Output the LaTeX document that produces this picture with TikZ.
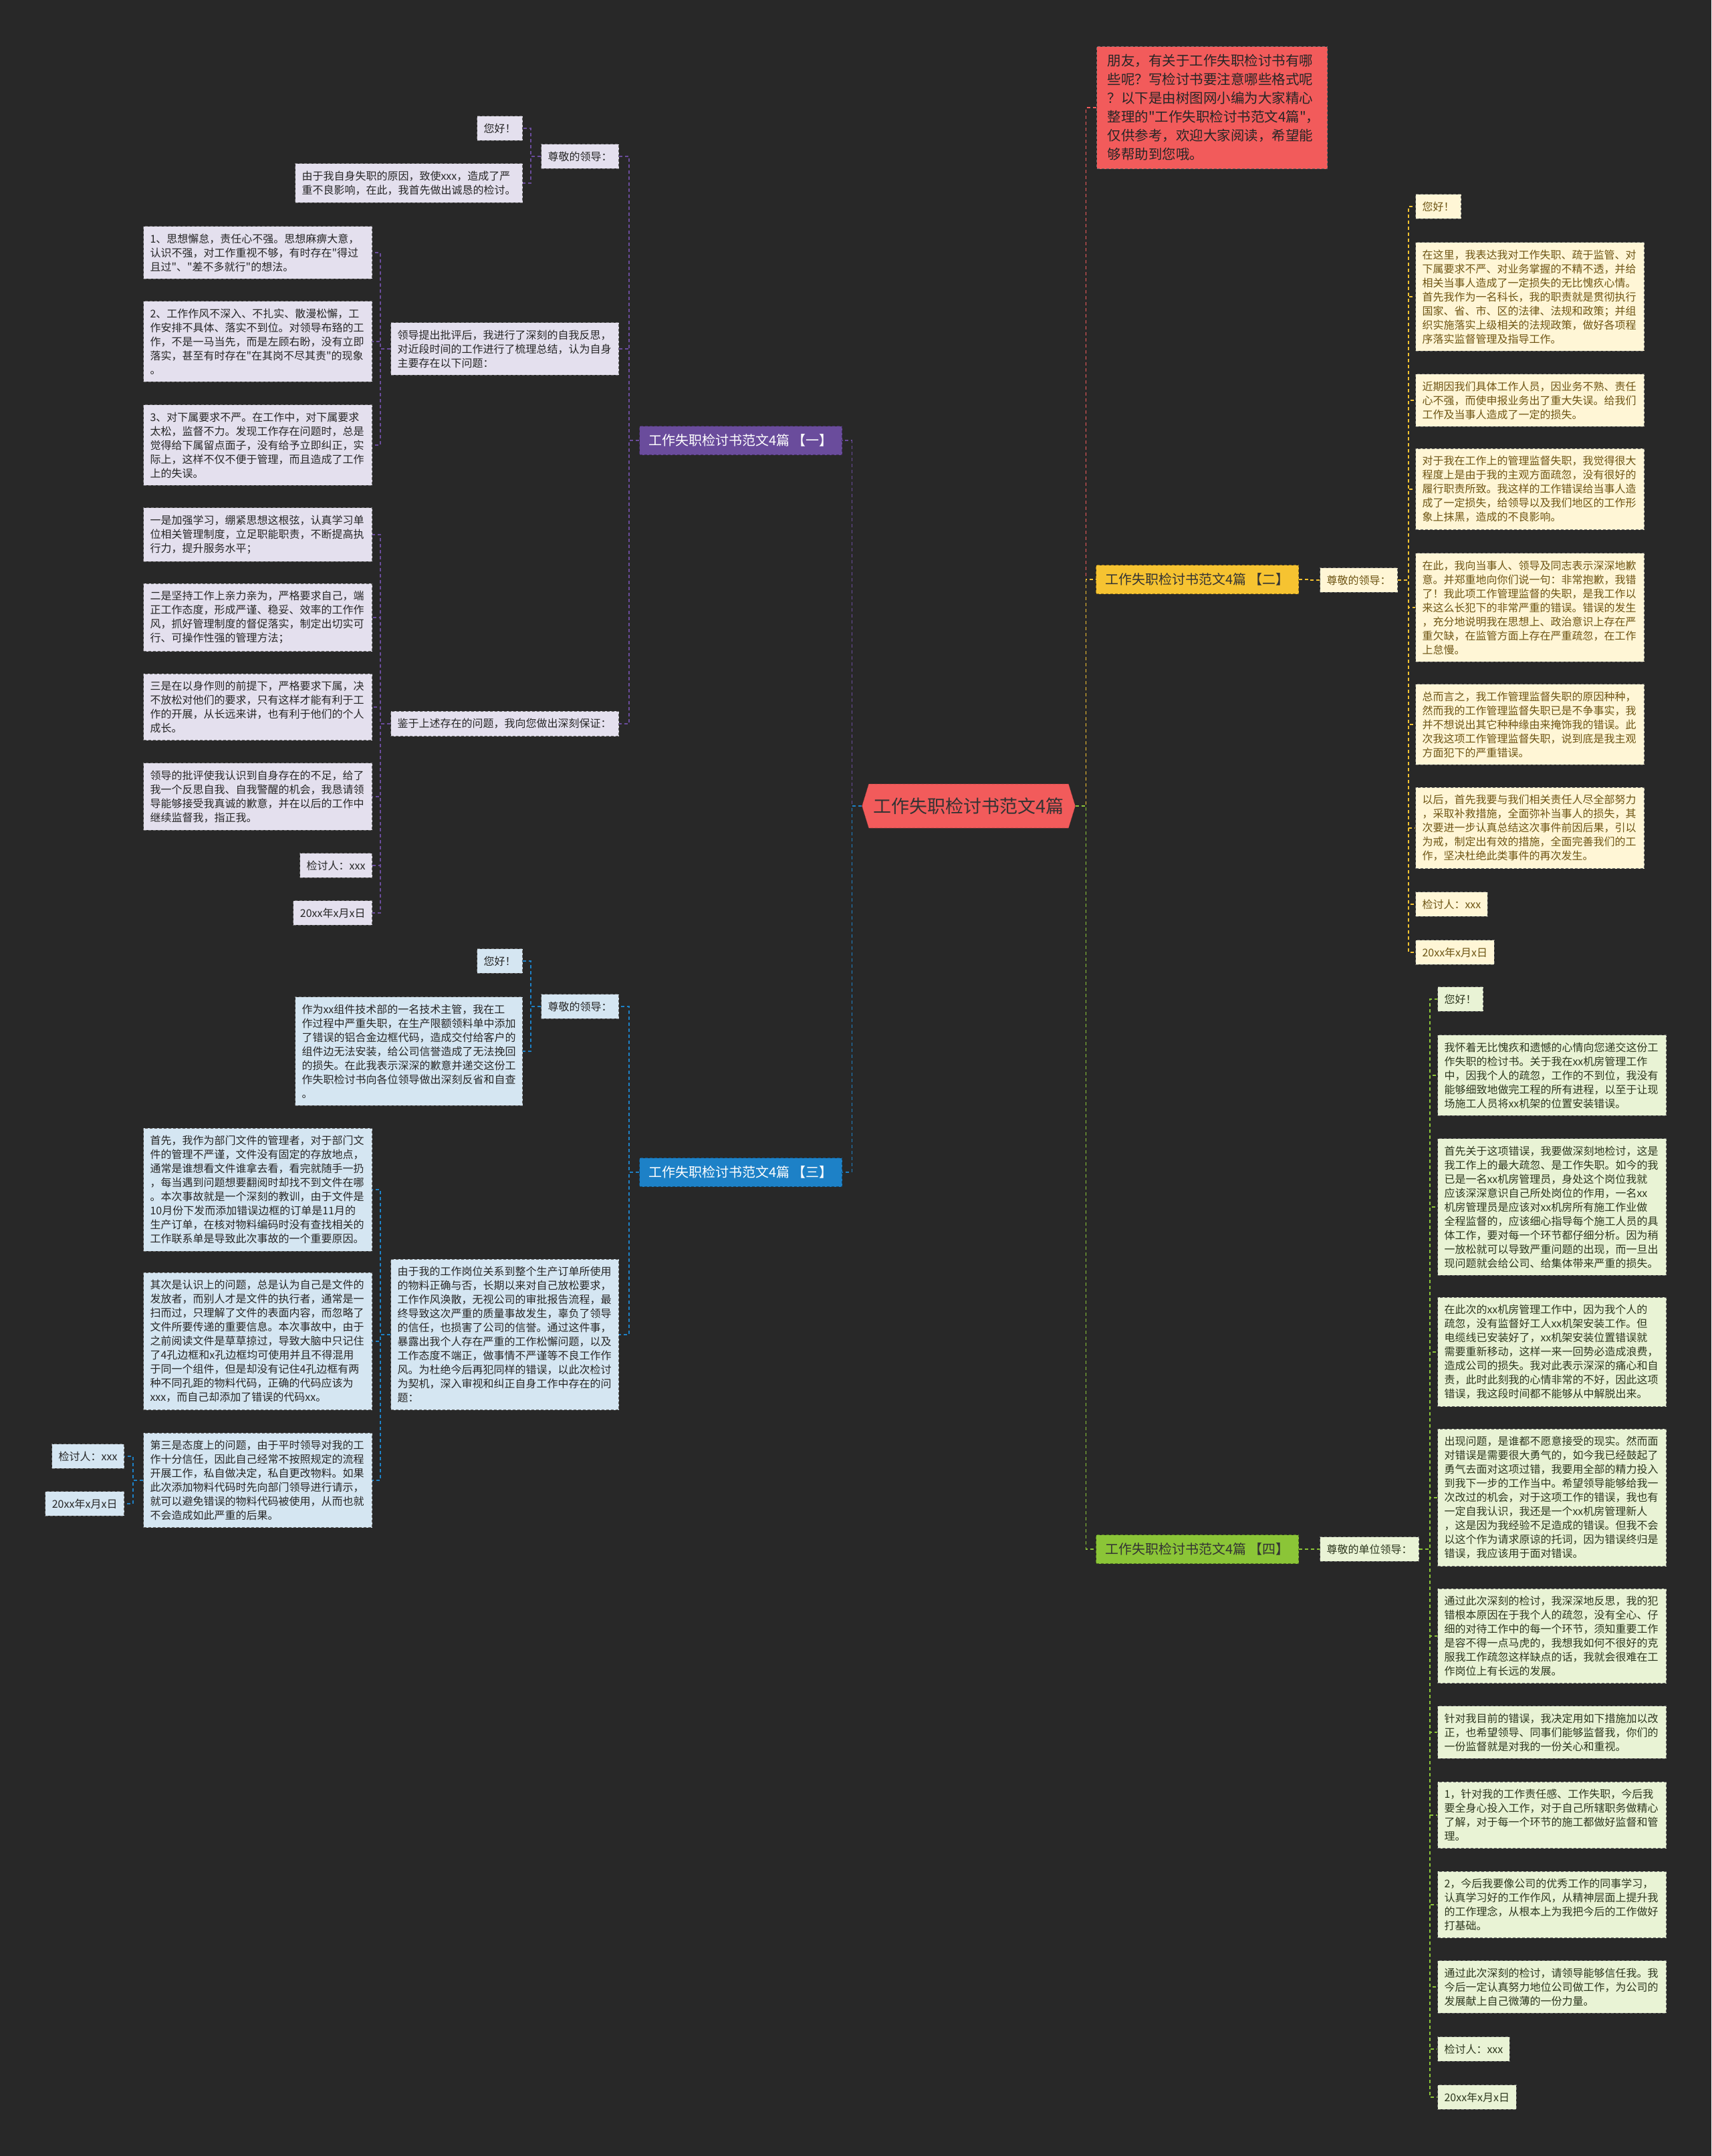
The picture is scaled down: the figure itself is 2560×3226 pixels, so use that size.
\documentclass[tikz,border=0pt]{standalone}
\usepackage{fontspec}
\setmainfont{Noto Sans CJK SC}[Ligatures=TeXOff]
\usepackage{tikz}
\usetikzlibrary{positioning, shapes.symbols}
\definecolor{bgdark}{RGB}{40,40,40}
\definecolor{redbox}{RGB}{242,91,91}
\definecolor{purp}{RGB}{106,76,156}
\definecolor{gold}{RGB}{246,195,49}
\definecolor{sky}{RGB}{29,129,199}
\definecolor{lime}{RGB}{139,197,55}
\definecolor{lavender}{RGB}{228,224,238}
\definecolor{cream}{RGB}{255,246,214}
\definecolor{iceblue}{RGB}{213,230,242}
\definecolor{mint}{RGB}{233,243,213}
\definecolor{browntext}{RGB}{110,85,20}
\definecolor{greentext}{RGB}{45,55,30}

\begin{document}
\begin{tikzpicture}[
  x=1pt, y=-1pt,
  card/.style={draw=black!60, dash pattern=on 4pt off 3pt, line width=1pt, fill=#1,
               text=black!85, inner xsep=10pt, inner ysep=11pt,
               font=\fontsize{16}{21}\selectfont},
  wide/.style={text width=322pt, align=left},
  branch/.style={draw=#1!60!black, dash pattern=on 4pt off 3pt, line width=1pt, fill=#1,
                 minimum width=303pt, minimum height=43pt, inner sep=0pt,
                 font=\fontsize{20}{24}\selectfont},
  link/.style={draw=#1, dash pattern=on 5pt off 4pt, line width=1.5pt}
]
  \useasboundingbox (0,0) rectangle (2560,3226);
  \fill[bgdark] (0,0) rectangle (2560,3226);

  % Root and intro
  \node[signal, signal to=east and west, signal pointer angle=146, draw=redbox!60!black,
        dash pattern=on 4pt off 3pt, fill=redbox, text=black!80, minimum width=319pt,
        minimum height=66pt, inner sep=0pt, font=\fontsize{27}{32}\selectfont]
        (root) at (1449,1206) {工作失职检讨书范文4篇};
  \node[card=redbox, anchor=north west, text width=313pt, align=left, inner xsep=16pt,
        inner ysep=12pt, font=\fontsize{20.5}{28}\selectfont] (intro) at (1640,69)
        {朋友，有关于工作失职检讨书有哪\\些呢？写检讨书要注意哪些格式呢\\？以下是由树图网小编为大家精心\\整理的"工作失职检讨书范文4篇"，\\仅供参考，欢迎大家阅读，希望能\\够帮助到您哦。};

  % Branches
  \node[branch=purp, text=white] (b1) at (1108,659) {工作失职检讨书范文4篇 【一】};
  \node[branch=gold, text=black!80] (b2) at (1791,867) {工作失职检讨书范文4篇 【二】};
  \node[branch=sky, text=white] (b3) at (1108,1754) {工作失职检讨书范文4篇 【三】};
  \node[branch=lime, text=black!80] (b4) at (1791,2318) {工作失职检讨书范文4篇 【四】};

  % Branch one
  \node[card=lavender, anchor=east] (g1) at (926,234) {尊敬的领导：};
  \node[card=lavender, anchor=east] (g1hi) at (782,192) {您好！};
  \node[card=lavender, anchor=east, text width=320pt, align=left] (g1a) at (782,274)
    {由于我自身失职的原因，致使xxx，造成了严\\重不良影响，在此，我首先做出诚恳的检讨。};
  \node[card=lavender, anchor=east, text width=321pt, align=left] (p1) at (926,522)
    {领导提出批评后，我进行了深刻的自我反思，\\对近段时间的工作进行了梳理总结，认为自身\\主要存在以下问题：};
  \node[card=lavender, wide, anchor=east] (p1a) at (557,378)
    {1、思想懈怠，责任心不强。思想麻痹大意，\\认识不强，对工作重视不够，有时存在"得过\\且过"、"差不多就行"的想法。};
  \node[card=lavender, wide, anchor=east] (p1b) at (557,511)
    {2、工作作风不深入、不扎实、散漫松懈，工\\作安排不具体、落实不到位。对领导布臵的工\\作，不是一马当先，而是左顾右盼，没有立即\\落实，甚至有时存在"在其岗不尽其责"的现象\\。};
  \node[card=lavender, wide, anchor=east] (p1c) at (557,666)
    {3、对下属要求不严。在工作中，对下属要求\\太松，监督不力。发现工作存在问题时，总是\\觉得给下属留点面子，没有给予立即纠正，实\\际上，这样不仅不便于管理，而且造成了工作\\上的失误。};
  \node[card=lavender, anchor=east, text width=321pt, align=left] (q1) at (926,1083)
    {鉴于上述存在的问题，我向您做出深刻保证：};
  \node[card=lavender, wide, anchor=east] (q1a) at (557,800)
    {一是加强学习，绷紧思想这根弦，认真学习单\\位相关管理制度，立足职能职责，不断提高执\\行力，提升服务水平；};
  \node[card=lavender, wide, anchor=east] (q1b) at (557,924)
    {二是坚持工作上亲力亲为，严格要求自己，端\\正工作态度，形成严谨、稳妥、效率的工作作\\风，抓好管理制度的督促落实，制定出切实可\\行、可操作性强的管理方法；};
  \node[card=lavender, wide, anchor=east] (q1c) at (557,1058)
    {三是在以身作则的前提下，严格要求下属，决\\不放松对他们的要求，只有这样才能有利于工\\作的开展，从长远来讲，也有利于他们的个人\\成长。};
  \node[card=lavender, wide, anchor=east] (q1d) at (557,1192)
    {领导的批评使我认识到自身存在的不足，给了\\我一个反思自我、自我警醒的机会，我恳请领\\导能够接受我真诚的歉意，并在以后的工作中\\继续监督我，指正我。};
  \node[card=lavender, anchor=east] (q1e) at (557,1295) {检讨人：xxx};
  \node[card=lavender, anchor=east] (q1f) at (557,1366) {20xx年x月x日};

  % Branch two
  \node[card=cream, text=browntext, anchor=west] (g2) at (1974,868) {尊敬的领导：};
  \node[card=cream, text=browntext, anchor=west] (g2hi) at (2117,309) {您好！};
  \node[card=cream, text=browntext, wide, anchor=west] (g2a) at (2117,444)
    {在这里，我表达我对工作失职、疏于监管、对\\下属要求不严、对业务掌握的不精不透，并给\\相关当事人造成了一定损失的无比愧疚心情。\\首先我作为一名科长，我的职责就是贯彻执行\\国家、省、市、区的法律、法规和政策；并组\\织实施落实上级相关的法规政策，做好各项程\\序落实监督管理及指导工作。};
  \node[card=cream, text=browntext, wide, anchor=west] (g2b) at (2117,599)
    {近期因我们具体工作人员，因业务不熟、责任\\心不强，而使申报业务出了重大失误。给我们\\工作及当事人造成了一定的损失。};
  \node[card=cream, text=browntext, wide, anchor=west] (g2c) at (2117,732)
    {对于我在工作上的管理监督失职，我觉得很大\\程度上是由于我的主观方面疏忽，没有很好的\\履行职责所致。我这样的工作错误给当事人造\\成了一定损失，给领导以及我们地区的工作形\\象上抹黑，造成的不良影响。};
  \node[card=cream, text=browntext, wide, anchor=west] (g2d) at (2117,909)
    {在此，我向当事人、领导及同志表示深深地歉\\意。并郑重地向你们说一句：非常抱歉，我错\\了！我此项工作管理监督的失职，是我工作以\\来这么长犯下的非常严重的错误。错误的发生\\，充分地说明我在思想上、政治意识上存在严\\重欠缺，在监管方面上存在严重疏忽，在工作\\上怠慢。};
  \node[card=cream, text=browntext, wide, anchor=west] (g2e) at (2117,1084)
    {总而言之，我工作管理监督失职的原因种种，\\然而我的工作管理监督失职已是不争事实，我\\并不想说出其它种种缘由来掩饰我的错误。此\\次我这项工作管理监督失职，说到底是我主观\\方面犯下的严重错误。};
  \node[card=cream, text=browntext, wide, anchor=west] (g2f) at (2117,1239)
    {以后，首先我要与我们相关责任人尽全部努力\\，采取补救措施，全面弥补当事人的损失，其\\次要进一步认真总结这次事件前因后果，引以\\为戒，制定出有效的措施，全面完善我们的工\\作，坚决杜绝此类事件的再次发生。};
  \node[card=cream, text=browntext, anchor=west] (g2g) at (2117,1353) {检讨人：xxx};
  \node[card=cream, text=browntext, anchor=west] (g2h) at (2117,1425) {20xx年x月x日};

  % Branch three
  \node[card=iceblue, anchor=east] (g3) at (926,1506) {尊敬的领导：};
  \node[card=iceblue, anchor=east] (g3hi) at (782,1438) {您好！};
  \node[card=iceblue, anchor=east, text width=320pt, align=left] (g3a) at (782,1573)
    {作为xx组件技术部的一名技术主管，我在工\\作过程中严重失职，在生产限额领料单中添加\\了错误的铝合金边框代码，造成交付给客户的\\组件边无法安装，给公司信誉造成了无法挽回\\的损失。在此我表示深深的歉意并递交这份工\\作失职检讨书向各位领导做出深刻反省和自查\\。};
  \node[card=iceblue, anchor=east, text width=321pt, align=left] (r3) at (926,1997)
    {由于我的工作岗位关系到整个生产订单所使用\\的物料正确与否，长期以来对自己放松要求，\\工作作风涣散，无视公司的审批报告流程，最\\终导致这次严重的质量事故发生，辜负了领导\\的信任，也损害了公司的信誉。通过这件事，\\暴露出我个人存在严重的工作松懈问题，以及\\工作态度不端正，做事情不严谨等不良工作作\\风。为杜绝今后再犯同样的错误，以此次检讨\\为契机，深入审视和纠正自身工作中存在的问\\题：};
  \node[card=iceblue, wide, anchor=east] (r3a) at (557,1780)
    {首先，我作为部门文件的管理者，对于部门文\\件的管理不严谨，文件没有固定的存放地点，\\通常是谁想看文件谁拿去看，看完就随手一扔\\，每当遇到问题想要翻阅时却找不到文件在哪\\。本次事故就是一个深刻的教训，由于文件是\\10月份下发而添加错误边框的订单是11月的\\生产订单，在核对物料编码时没有查找相关的\\工作联系单是导致此次事故的一个重要原因。};
  \node[card=iceblue, wide, anchor=east] (r3b) at (557,2007)
    {其次是认识上的问题，总是认为自己是文件的\\发放者，而别人才是文件的执行者，通常是一\\扫而过，只理解了文件的表面内容，而忽略了\\文件所要传递的重要信息。本次事故中，由于\\之前阅读文件是草草掠过，导致大脑中只记住\\了4孔边框和x孔边框均可使用并且不得混用\\于同一个组件，但是却没有记住4孔边框有两\\种不同孔距的物料代码，正确的代码应该为\\xxx，而自己却添加了错误的代码xx。};
  \node[card=iceblue, wide, anchor=east] (r3c) at (557,2215)
    {第三是态度上的问题，由于平时领导对我的工\\作十分信任，因此自己经常不按照规定的流程\\开展工作，私自做决定，私自更改物料。如果\\此次添加物料代码时先向部门领导进行请示，\\就可以避免错误的物料代码被使用，从而也就\\不会造成如此严重的后果。};
  \node[card=iceblue, anchor=east] (r3d) at (186,2179) {检讨人：xxx};
  \node[card=iceblue, anchor=east] (r3e) at (186,2250) {20xx年x月x日};

  % Branch four
  \node[card=mint, text=greentext, anchor=west] (g4) at (1974,2318) {尊敬的单位领导：};
  \node[card=mint, text=greentext, anchor=west] (g4hi) at (2150,1495) {您好！};
  \node[card=mint, text=greentext, wide, anchor=west] (g4a) at (2150,1609)
    {我怀着无比愧疚和遗憾的心情向您递交这份工\\作失职的检讨书。关于我在xx机房管理工作\\中，因我个人的疏忽，工作的不到位，我没有\\能够细致地做完工程的所有进程，以至于让现\\场施工人员将xx机架的位置安装错误。};
  \node[card=mint, text=greentext, wide, anchor=west] (g4b) at (2150,1806)
    {首先关于这项错误，我要做深刻地检讨，这是\\我工作上的最大疏忽、是工作失职。如今的我\\已是一名xx机房管理员，身处这个岗位我就\\应该深深意识自己所处岗位的作用，一名xx\\机房管理员是应该对xx机房所有施工作业做\\全程监督的，应该细心指导每个施工人员的具\\体工作，要对每一个环节都仔细分析。因为稍\\一放松就可以导致严重问题的出现，而一旦出\\现问题就会给公司、给集体带来严重的损失。};
  \node[card=mint, text=greentext, wide, anchor=west] (g4c) at (2150,2023)
    {在此次的xx机房管理工作中，因为我个人的\\疏忽，没有监督好工人xx机架安装工作。但\\电缆线已安装好了，xx机架安装位置错误就\\需要重新移动，这样一来一回势必造成浪费，\\造成公司的损失。我对此表示深深的痛心和自\\责，此时此刻我的心情非常的不好，因此这项\\错误，我这段时间都不能够从中解脱出来。};
  \node[card=mint, text=greentext, wide, anchor=west] (g4d) at (2150,2241)
    {出现问题，是谁都不愿意接受的现实。然而面\\对错误是需要很大勇气的，如今我已经鼓起了\\勇气去面对这项过错，我要用全部的精力投入\\到我下一步的工作当中。希望领导能够给我一\\次改过的机会，对于这项工作的错误，我也有\\一定自我认识，我还是一个xx机房管理新人\\，这是因为我经验不足造成的错误。但我不会\\以这个作为请求原谅的托词，因为错误终归是\\错误，我应该用于面对错误。};
  \node[card=mint, text=greentext, wide, anchor=west] (g4e) at (2150,2448)
    {通过此次深刻的检讨，我深深地反思，我的犯\\错根本原因在于我个人的疏忽，没有全心、仔\\细的对待工作中的每一个环节，须知重要工作\\是容不得一点马虎的，我想我如何不很好的克\\服我工作疏忽这样缺点的话，我就会很难在工\\作岗位上有长远的发展。};
  \node[card=mint, text=greentext, wide, anchor=west] (g4f) at (2150,2592)
    {针对我目前的错误，我决定用如下措施加以改\\正，也希望领导、同事们能够监督我，你们的\\一份监督就是对我的一份关心和重视。};
  \node[card=mint, text=greentext, wide, anchor=west] (g4g) at (2150,2716)
    {1，针对我的工作责任感、工作失职，今后我\\要全身心投入工作，对于自己所辖职务做精心\\了解，对于每一个环节的施工都做好监督和管\\理。};
  \node[card=mint, text=greentext, wide, anchor=west] (g4h) at (2150,2850)
    {2，今后我要像公司的优秀工作的同事学习，\\认真学习好的工作作风，从精神层面上提升我\\的工作理念，从根本上为我把今后的工作做好\\打基础。};
  \node[card=mint, text=greentext, wide, anchor=west] (g4i) at (2150,2973)
    {通过此次深刻的检讨，请领导能够信任我。我\\今后一定认真努力地位公司做工作，为公司的\\发展献上自己微薄的一份力量。};
  \node[card=mint, text=greentext, anchor=west] (g4j) at (2150,3066) {检讨人：xxx};
  \node[card=mint, text=greentext, anchor=west] (g4k) at (2150,3138) {20xx年x月x日};

  % Connectors, left side
  \foreach \p/\c/\col in {root/b1/purp, root/b3/sky,
      b1/g1/purp, b1/p1/purp, b1/q1/purp, g1/g1hi/purp, g1/g1a/purp,
      p1/p1a/purp, p1/p1b/purp, p1/p1c/purp,
      q1/q1a/purp, q1/q1b/purp, q1/q1c/purp, q1/q1d/purp, q1/q1e/purp, q1/q1f/purp,
      b3/g3/sky, b3/r3/sky, g3/g3hi/sky, g3/g3a/sky,
      r3/r3a/sky, r3/r3b/sky, r3/r3c/sky, r3c/r3d/sky, r3c/r3e/sky} {
    \draw[link=\col] (\p.west) -- ++(-15,0) |- (\c.east);
  }
  % Connectors, right side
  \foreach \p/\c/\col in {root/intro/redbox, root/b2/gold, root/b4/lime,
      b2/g2/gold, g2/g2hi/gold, g2/g2a/gold, g2/g2b/gold, g2/g2c/gold, g2/g2d/gold,
      g2/g2e/gold, g2/g2f/gold, g2/g2g/gold, g2/g2h/gold,
      b4/g4/lime, g4/g4hi/lime, g4/g4a/lime, g4/g4b/lime, g4/g4c/lime, g4/g4d/lime,
      g4/g4e/lime, g4/g4f/lime, g4/g4g/lime, g4/g4h/lime, g4/g4i/lime, g4/g4j/lime,
      g4/g4k/lime} {
    \draw[link=\col] (\p.east) -- ++(16,0) |- (\c.west);
  }
\end{tikzpicture}
\end{document}
